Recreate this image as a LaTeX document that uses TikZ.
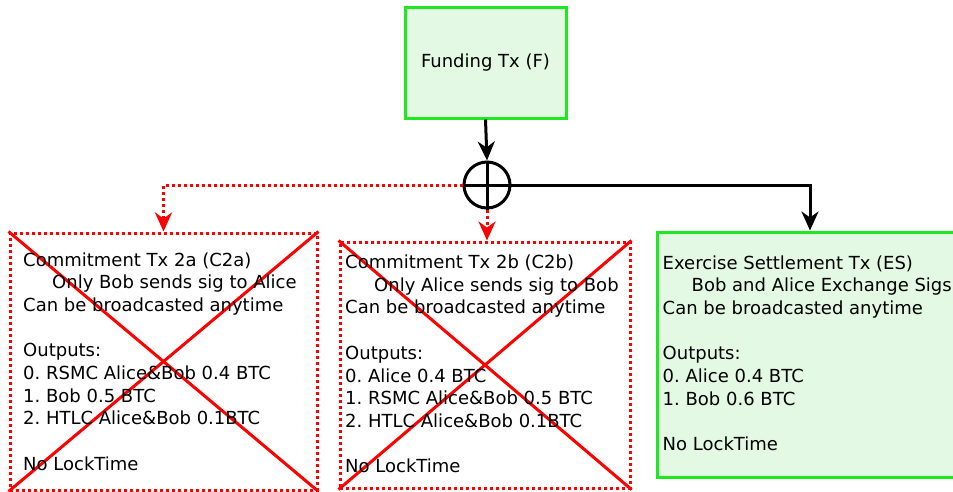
\documentclass[tikz,border=0pt]{standalone}
\usepackage{fontspec}
\setmainfont{DejaVu Sans}
\usetikzlibrary{arrows.meta}
\definecolor{boxgreen}{RGB}{30,232,30}
\definecolor{boxfill}{RGB}{227,249,227}
\definecolor{xred}{RGB}{255,0,0}
\tikzset{
  greenbox/.style={draw=boxgreen, fill=boxfill, line width=3pt, rectangle, inner sep=0pt},
  redbox/.style={draw=xred, line width=3pt, dash pattern=on 3pt off 3pt, rectangle, inner sep=0pt},
  crossline/.style={draw=xred, line width=3pt},
  txt/.style={anchor=base west, inner sep=0pt, font=\fontsize{18}{22.7}\selectfont},
  blackconn/.style={draw=black, line width=3pt, -{Stealth[length=19pt,width=17pt,inset=6pt]}},
  redconn/.style={draw=xred, line width=3pt, dash pattern=on 3pt off 3pt, -{Stealth[length=19pt,width=17pt,inset=6pt]}},
}
\newcommand{\ind}{\hspace*{29pt}}
\frenchspacing
\begin{document}
\begin{tikzpicture}[x=1pt,y=-1pt]
\useasboundingbox (0,0) rectangle (953,491);
% Funding
\node[greenbox, minimum width=161pt, minimum height=111pt, font=\fontsize{18}{22.7}\selectfont] (fund) at (485.5,62.5) {Funding Tx (F)};
% circle
\node[draw=black, line width=3pt, circle, minimum size=46pt, inner sep=0pt] (circ) at (487,185) {};
\draw[line width=3pt] (circ.north) -- (circ.south) (circ.west) -- (circ.east);
% boxes
\node[redbox, minimum width=307pt, minimum height=257pt] (c2a) at (163.5,361.5) {};
\draw[crossline] (c2a.north west) -- (c2a.south east) (c2a.north east) -- (c2a.south west);
\node[redbox, minimum width=290pt, minimum height=246pt] (c2b) at (485,365) {};
\draw[crossline] (c2b.north west) -- (c2b.south east) (c2b.north east) -- (c2b.south west);
\node[greenbox, minimum width=306pt, minimum height=245pt] (es) at (810,354.5) {};
% texts
\node[txt] (c2atext) at (23,266) {\begin{tabular}[t]{@{}l@{}}
Commitment Tx 2a (C2a)\\
\ind Only Bob sends sig to Alice\\
Can be broadcasted anytime\\
\\
Outputs:\\
0. RSMC Alice\&Bob 0.4 BTC\\
1. Bob 0.5 BTC\\
2. HTLC Alice\&Bob 0.1BTC\\
\\
No LockTime
\end{tabular}};
\node[txt] (c2btext) at (345,268.5) {\begin{tabular}[t]{@{}l@{}}
Commitment Tx 2b (C2b)\\
\ind Only Alice sends sig to Bob\\
Can be broadcasted anytime\\
\\
Outputs:\\
0. Alice 0.4 BTC\\
1. RSMC Alice\&Bob 0.5 BTC\\
2. HTLC Alice\&Bob 0.1BTC\\
\\
No LockTime
\end{tabular}};
\node[txt] (estext) at (662.5,269) {\begin{tabular}[t]{@{}l@{}}
Exercise Settlement Tx (ES)\\
\ind Bob and Alice Exchange Sigs\\
Can be broadcasted anytime\\
\\
Outputs:\\
0. Alice 0.4 BTC\\
1. Bob 0.6 BTC\\
\\
No LockTime
\end{tabular}};
% connectors
\draw[blackconn] (fund.south) -- (circ.north);
\draw[redconn] (circ.west) -| (c2a.north);
\draw[redconn] (circ.south) -- (circ.south |- c2b.north);
\draw[blackconn] (circ.east) -| (es.north);
\end{tikzpicture}
\end{document}
